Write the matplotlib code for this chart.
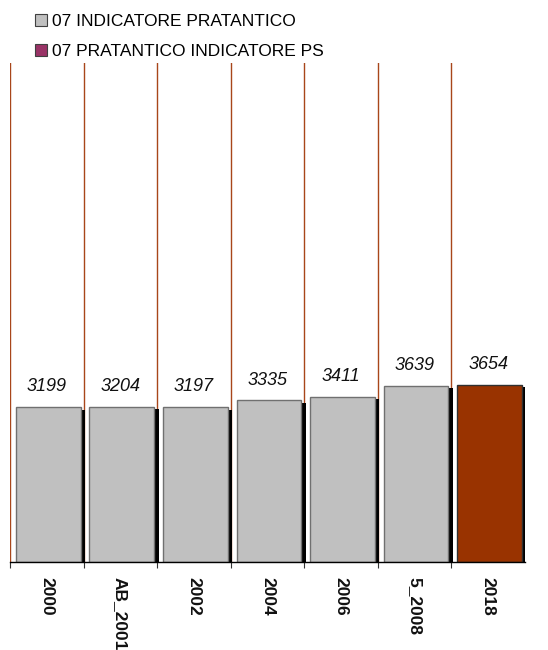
import matplotlib
matplotlib.use("Agg")
import matplotlib.pyplot as plt
import matplotlib.transforms as mtransforms
from matplotlib.patches import Patch
import numpy as np

categories = ["2000", "AB_2001", "2002", "2004", "2006", "5_2008", "2018"]
values = [3199, 3204, 3197, 3335, 3411, 3639, 3654]
bar_colors = ["#C0C0C0", "#C0C0C0", "#C0C0C0", "#C0C0C0", "#C0C0C0", "#C0C0C0", "#993300"]
edge_colors = ["#707070", "#707070", "#707070", "#707070", "#707070", "#707070", "#303030"]
legend_labels = ["07 INDICATORE PRATANTICO", "07 PRATANTICO INDICATORE PS"]
legend_colors = ["#C0C0C0", "#993366"]

plt.rcParams['font.family'] = ['Liberation Sans', 'DejaVu Sans']

W, H = 548, 650
fig = plt.figure(figsize=(W / 100, H / 100), dpi=100)
ax = fig.add_axes([10 / W, 1 - 562 / H, (525 - 10) / W, (562 - 63) / H])

x = np.arange(len(categories))
ax.set_xlim(-0.5, len(categories) - 0.5)
ax.set_ylim(0, 10300)

# shadow bars
shadow_tr = mtransforms.offset_copy(ax.transData, fig=fig, x=4.5, y=-2.5, units='dots')
ax.bar(x + 0.02, values, width=0.88, color='black', transform=shadow_tr, zorder=2, linewidth=0)
ax.bar(x + 0.02, values, width=0.88, color=bar_colors, edgecolor=edge_colors, linewidth=1.0, zorder=3)

for xi, v in zip(x, values):
    ax.annotate(str(v), (xi, v), xytext=(0, 8.5), textcoords='offset points',
                ha='center', va='bottom', fontsize=13, style='italic', color='#111111')

# vertical separators
for b in np.arange(len(categories)) - 0.5:
    ax.axvline(b, color='#A8461A', linewidth=1.0, zorder=1)

for s in ['left', 'right', 'top']:
    ax.spines[s].set_visible(False)
ax.spines['bottom'].set_linewidth(1.0)
ax.spines['bottom'].set_zorder(5)

ax.set_yticks([])
ax.set_xticks(x)
ax.set_xticklabels(categories, rotation=-90, fontsize=12.5, fontweight='bold',
                   family=['Liberation Sans', 'DejaVu Sans'], va='top', ha='center', color='#111111')
ax.tick_params(axis='x', which='major', length=0, pad=11)
ax.set_xticks(np.arange(len(categories)) - 0.5, minor=True)
ax.tick_params(axis='x', which='minor', length=4, width=0.8, color='#333333')

handles = [Patch(facecolor=c, edgecolor='#404040', linewidth=0.8) for c in legend_colors]
fig.legend(handles, legend_labels, loc='upper left', bbox_to_anchor=(35 / W, 1 - 14 / H),
           frameon=False, fontsize=12.5, handlelength=0.7, handleheight=0.7,
           handletextpad=0.3, labelspacing=0.85, borderaxespad=0, borderpad=0)

fig.savefig("out.png", dpi=100)
